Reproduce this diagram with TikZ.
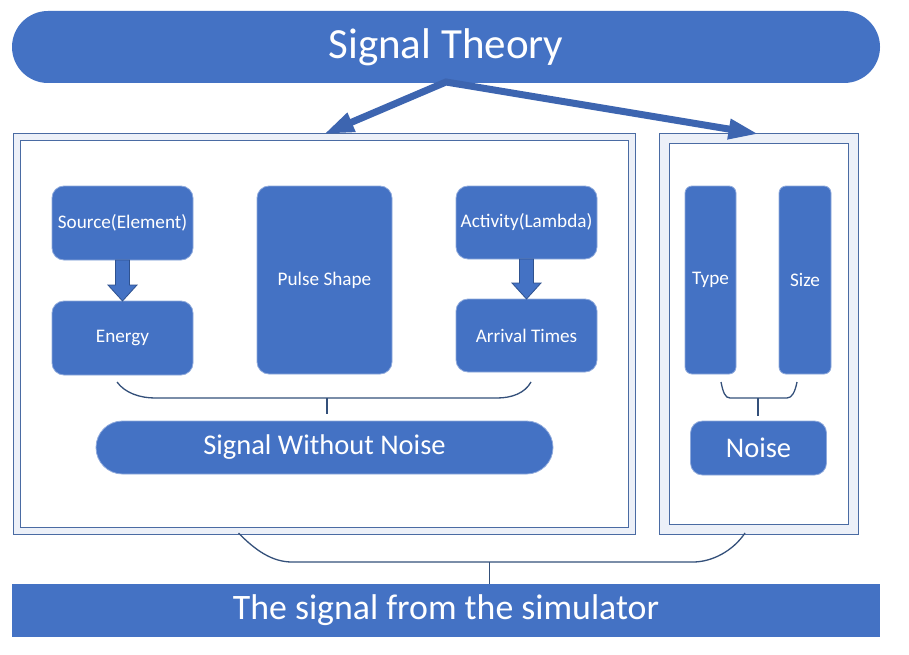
\documentclass[tikz,border=0pt]{standalone}
\usepackage{fontspec}
\setmainfont{Carlito}
\usetikzlibrary{calc,arrows.meta}
\definecolor{main}{HTML}{4472C4}
\definecolor{arrowc}{HTML}{3D65B0}
\definecolor{edgec}{HTML}{2F528F}
\definecolor{framec}{HTML}{4A6BA3}
\definecolor{bandc}{HTML}{ECF0F8}
\definecolor{brkc}{HTML}{34507A}
\definecolor{rimc}{HTML}{8FAADC}
\begin{document}
\begin{tikzpicture}[x=1pt,y=-1pt,
  blk/.style={fill=main, draw=rimc, line width=0.8pt, text=white, rounded corners=12pt,
    inner sep=0pt, outer sep=0pt, font=\fontsize{19.2}{21}\selectfont},
  frm/.style={draw=framec, line width=1pt, inner sep=0pt, outer sep=0pt},
  brk/.style={draw=brkc, line width=1.3pt},
  darr/.style={fill=main, draw=edgec, line width=0.8pt, line join=miter}
]
\useasboundingbox (0,0) rectangle (909,655);
\fill[white] (0,0) rectangle (909,655);

% title and bottom bar
\node[blk, draw=none, rounded corners=36pt, minimum width=868, minimum height=72,
  font=\fontsize{43}{48}\selectfont] (title) at (446,47) {Signal Theory};
\node[blk, draw=none, rounded corners=0pt, minimum width=868, minimum height=53,
  font=\fontsize{35.8}{40}\selectfont] (bar) at (446,610.5) {The signal from the simulator};

% frames
\node[frm, fill=bandc, minimum width=622, minimum height=400] (lfo) at (324,334) {};
\node[frm, fill=white, minimum width=608, minimum height=386] (lfi) at (324,334) {};
\node[frm, fill=bandc, minimum width=199, minimum height=400] (rfo) at (758.5,334) {};
\node[frm, fill=white, minimum width=179, minimum height=380] (rfi) at (758.5,334) {};

% title arrows
\draw[arrowc, line width=7pt, line join=miter,
  {Triangle[length=30pt,width=19pt]}-{Triangle[length=30pt,width=19pt]}]
  (lfo.north) -- ($(title.south)+(0,-1)$) -- (rfo.north);

% inner boxes
\node[blk, minimum width=141, minimum height=74] (src) at (122.5,223) {Source(Element)};
\node[blk, minimum width=141, minimum height=74] (en) at (122.5,338) {Energy};
\node[blk, minimum width=135, minimum height=188] (ps) at (324.5,280) {Pulse Shape};
\node[blk, minimum width=141, minimum height=73] (act) at (526.5,222.5) {Activity(Lambda)};
\node[blk, minimum width=141, minimum height=73] (arr) at (526.5,335.5) {Arrival Times};
\node[blk, rounded corners=7pt, minimum width=51, minimum height=188] (typ) at (710.5,280) {Type};
\node[blk, rounded corners=7pt, minimum width=52, minimum height=188] (siz) at (805,280) {Size};
\node[blk, rounded corners=26.5pt, minimum width=457, minimum height=53,
  font=\fontsize{28.5}{32}\selectfont] (swn) at (324.5,447.5) {Signal Without Noise};
\node[blk, rounded corners=12pt, minimum width=136, minimum height=54,
  font=\fontsize{28.5}{32}\selectfont] (noise) at (758.5,448) {Noise};

% down block arrows
\foreach \a/\b in {src/en, act/arr}{
  \draw[darr] ($(\a.south)+(-7,0)$) -- ($(\a.south)+(7,0)$) -- ($(\b.north)+(7,-16)$)
    -- ($(\b.north)+(14.5,-16)$) -- (\b.north) -- ($(\b.north)+(-14.5,-16)$)
    -- ($(\b.north)+(-7,-16)$) -- cycle;
}

% brackets
\coordinate (lb) at (327,398);
\draw[brk] (117,382) .. controls (125,393) and (140,398) .. (155,398) -- (497,398)
  .. controls (512,398) and (525,393) .. (531,382);
\draw[brk, shorten >=7pt] (lb) -- (lb |- swn.north);

\coordinate (rb) at (758,398);
\draw[brk] (721,382) .. controls (723,392) and (725,398) .. (730,398) -- (787,398)
  .. controls (792,398) and (795,392) .. (797,382);
\draw[brk, shorten >=5pt] (rb) -- (rb |- noise.north);

\coordinate (bb) at (489.5,562);
\draw[brk] (238.5,533) .. controls (255,550) and (272,562) .. (292,562) -- (693,562)
  .. controls (712,562) and (733,551) .. (745,533);
\draw[brk] (bb) -- (bb |- bar.north);
\end{tikzpicture}
\end{document}
